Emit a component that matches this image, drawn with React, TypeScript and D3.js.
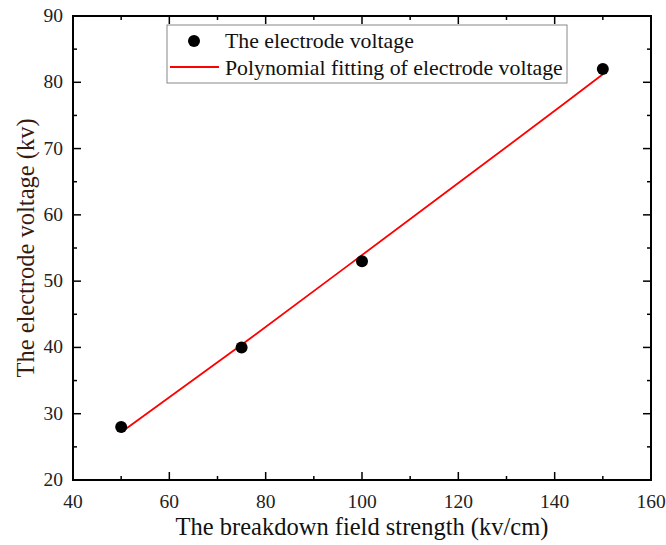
import React, { useEffect, useRef } from 'react';
import * as d3 from 'd3';

// measured electrode voltage
const fieldStrength = [50, 75, 100, 150];
const voltage = [28, 40, 53, 82];

// polynomial fitting curve
const fitX = [50, 75, 97, 120, 142, 150];
const fitY = [27.2, 40.4, 52.3, 64.8, 76.8, 81.2];

const xTicks = [40, 60, 80, 100, 120, 140, 160];
const yTicks = [20, 30, 40, 50, 60, 70, 80, 90];

const legendLabels = ['The electrode voltage', 'Polynomial fitting of electrode voltage'];

const W = 666;
const H = 545;
const margin = { left: 73, right: 15, top: 16, bottom: 65 };
const FONT = '"Liberation Serif", "Times New Roman", serif';

const App = () => {
  const svgRef = useRef<SVGSVGElement>(null);

  useEffect(() => {
    const svg = d3.select(svgRef.current);
    svg.selectAll('*').remove();

    const x = d3.scaleLinear().domain([40, 160]).range([margin.left, W - margin.right]);
    const y = d3.scaleLinear().domain([20, 90]).range([H - margin.bottom, margin.top]);
    const x0 = x.range()[0], x1 = x.range()[1];
    const y0 = y.range()[0], y1 = y.range()[1];

    // ticks, all pointing inward
    const g = svg.append('g').attr('stroke', '#000').attr('stroke-width', 1.5);
    const xMinor = d3.range(50, 160, 20);
    const yMinor = d3.range(25, 90, 10);
    xTicks.forEach(t => {
      g.append('line').attr('x1', x(t)).attr('x2', x(t)).attr('y1', y0).attr('y2', y0 - 8);
      g.append('line').attr('x1', x(t)).attr('x2', x(t)).attr('y1', y1).attr('y2', y1 + 8);
    });
    xMinor.forEach(t => {
      g.append('line').attr('x1', x(t)).attr('x2', x(t)).attr('y1', y0).attr('y2', y0 - 4);
      g.append('line').attr('x1', x(t)).attr('x2', x(t)).attr('y1', y1).attr('y2', y1 + 4);
    });
    yTicks.forEach(t => {
      g.append('line').attr('x1', x0).attr('x2', x0 + 8).attr('y1', y(t)).attr('y2', y(t));
      g.append('line').attr('x1', x1).attr('x2', x1 - 8).attr('y1', y(t)).attr('y2', y(t));
    });
    yMinor.forEach(t => {
      g.append('line').attr('x1', x0).attr('x2', x0 + 4).attr('y1', y(t)).attr('y2', y(t));
      g.append('line').attr('x1', x1).attr('x2', x1 - 4).attr('y1', y(t)).attr('y2', y(t));
    });

    // frame
    svg.append('rect')
      .attr('x', x0).attr('y', y1)
      .attr('width', x1 - x0).attr('height', y0 - y1)
      .attr('fill', 'none').attr('stroke', '#000').attr('stroke-width', 2);

    // tick labels
    svg.append('g').selectAll('text').data(xTicks).enter().append('text')
      .attr('x', d => x(d)).attr('y', y0 + 28)
      .attr('text-anchor', 'middle')
      .attr('font-family', FONT).attr('font-size', 19.5)
      .attr('fill', '#222')
      .text(d => d);

    svg.append('g').selectAll('text').data(yTicks).enter().append('text')
      .attr('x', x0 - 10).attr('y', d => y(d) + 6)
      .attr('text-anchor', 'end')
      .attr('font-family', FONT).attr('font-size', 19.5)
      .attr('fill', '#222')
      .text(d => d);

    // axis titles
    svg.append('text')
      .attr('x', (x0 + x1) / 2).attr('y', 535)
      .attr('text-anchor', 'middle')
      .attr('font-family', FONT).attr('font-size', 24.5)
      .attr('fill', '#111')
      .text('The breakdown field strength (kv/cm)');

    svg.append('text')
      .attr('transform', `translate(34,${(y0 + y1) / 2}) rotate(-90)`)
      .attr('text-anchor', 'middle')
      .attr('font-family', FONT).attr('font-size', 24.5)
      .attr('fill', '#3a1a10')
      .text('The electrode voltage (kv)');

    // fit line
    const line = d3.line<number>()
      .x((_, i) => x(fitX[i]))
      .y(d => y(d));
    svg.append('path')
      .datum(fitY)
      .attr('d', line)
      .attr('fill', 'none')
      .attr('stroke', '#ff0000')
      .attr('stroke-width', 1.8);

    // points
    svg.append('g').selectAll('circle').data(voltage).enter().append('circle')
      .attr('cx', (_, i) => x(fieldStrength[i]))
      .attr('cy', d => y(d))
      .attr('r', 6)
      .attr('fill', '#000');

    // legend
    const lg = svg.append('g');
    lg.append('rect')
      .attr('x', 167).attr('y', 25).attr('width', 400).attr('height', 58)
      .attr('fill', '#fff').attr('stroke', '#888').attr('stroke-width', 1);
    lg.append('circle').attr('cx', 194).attr('cy', 41).attr('r', 6).attr('fill', '#000');
    lg.append('line').attr('x1', 170).attr('x2', 219).attr('y1', 67).attr('y2', 67)
      .attr('stroke', '#ff0000').attr('stroke-width', 1.8);
    legendLabels.forEach((t, i) => {
      lg.append('text')
        .attr('x', 225).attr('y', 48 + i * 27)
        .attr('font-family', FONT).attr('font-size', 21.8)
        .attr('fill', '#111')
        .text(t);
    });
  }, []);

  return <svg ref={svgRef} width={W} height={H} style={{ display: 'block', position: 'absolute', left: 0, top: 0 }} />;
};

export default App;
